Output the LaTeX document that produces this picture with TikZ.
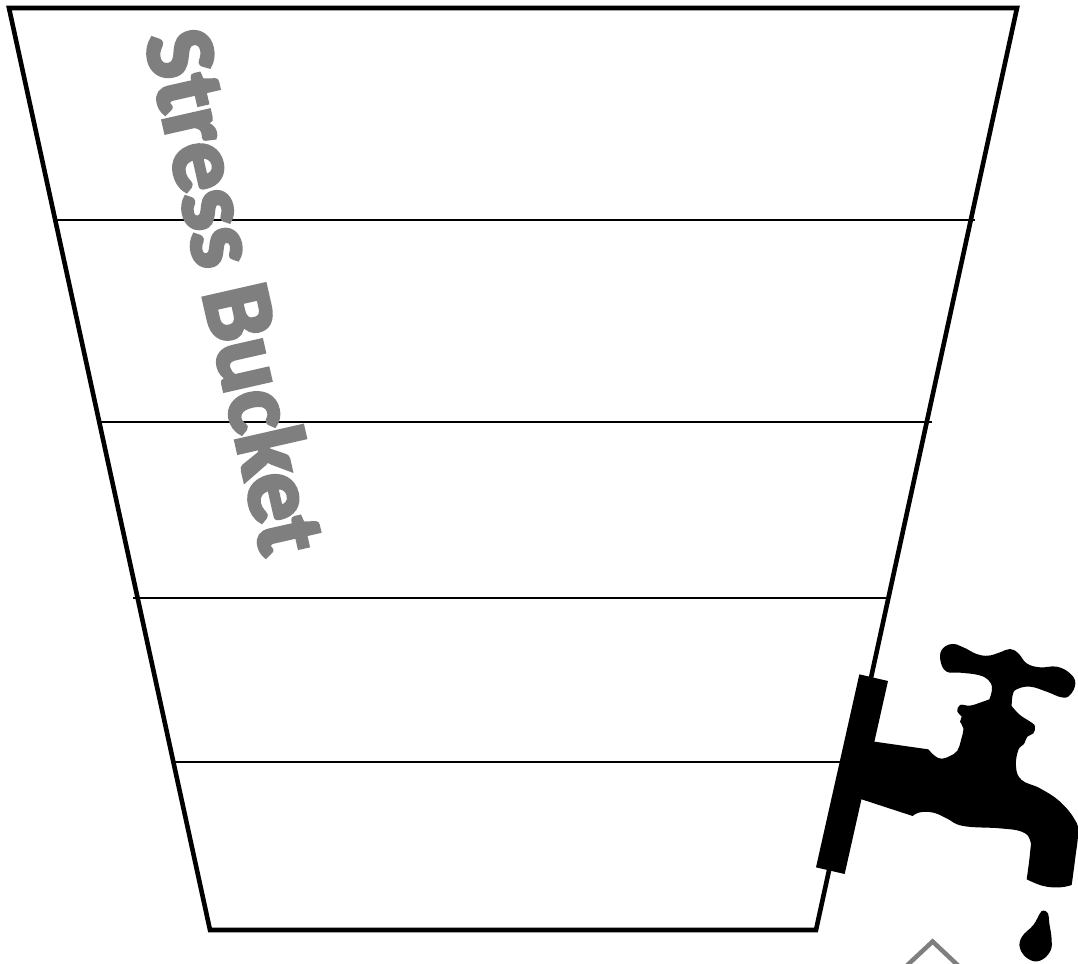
\documentclass[tikz,border=0pt]{standalone}
\usepackage{fontspec}
\setmainfont{Carlito}
\newfontfamily\titlefont[FakeBold=4]{Carlito Bold}
\definecolor{bucketgray}{RGB}{127,127,127}
\tikzset{
  bucketwall/.style={draw=black,line width=4.6pt,line join=miter},
  levelline/.style={draw=black,line width=2pt},
  titletext/.style={font=\fontsize{97}{97}\titlefont,rotate=-77.2,inner sep=0pt,anchor=center},
  tapfill/.style={fill=black,draw=none},
  chevron/.style={draw=bucketgray,line width=4.5pt,line join=miter}
}
\begin{document}
\begin{tikzpicture}[x=1pt,y=-1pt]
\useasboundingbox (0,0) rectangle (1078,963);
\fill[white] (0,0) rectangle (1078,963);
% levels
\draw[levelline] (57,220) -- (975,220);
\draw[levelline] (100,422) -- (932,422);
\draw[levelline] (133,598) -- (890,598);
\draw[levelline] (175,762) -- (842,762);
% bucket
\draw[bucketwall] (9,8) -- (1017,8) -- (816,930) -- (210,930) -- cycle;
% title
\node[titletext,text=bucketgray] (title) at (236.5,291) {Stress Bucket};
% tap
\begin{scope}[shift={(800,620)},x=0.33333pt,y=-0.33333pt]
\fill[tapfill] (178,163) -- (264,183) -- (134,762) -- (48,742) -- cycle;
\fill[tapfill] (180,365) -- (224,365) -- (385,388)
  -- plot[smooth,tension=0.7] coordinates {(385,388) (405,408) (425,416) (450,408) (472,392) (483,360) (490,325) (480,305) (485,290) (472,275) (480,255) (510,257) (540,248) (568,238)}
  -- plot[smooth,tension=0.7] coordinates {(568,238) (576,205) (565,180) (535,165) (480,158) (440,155) (422,125) (425,90) (455,72) (490,82) (530,102) (565,107) (600,97) (630,87) (655,100) (680,130) (720,142) (770,140) (810,160) (826,190) (810,225) (785,232) (740,215) (690,200) (650,208) (638,225) (635,258)}
  -- plot[smooth,tension=0.7] coordinates {(635,258) (660,285) (695,308) (705,320) (700,340) (682,350) (672,372) (655,390) (648,440) (665,480) (720,505) (780,545) (825,600) (834,640) (825,720) (815,795)}
  -- plot[smooth,tension=0.7] coordinates {(815,795) (780,802) (730,798) (680,778)}
  -- plot[smooth,tension=0.7] coordinates {(680,778) (690,700) (690,660) (665,635) (600,625) (490,618) (440,595) (400,578) (360,577) (338,588)}
  -- (185,538) -- (150,530) -- cycle;
\fill[tapfill] plot[smooth cycle,tension=0.7] coordinates {(730,872) (744,880) (748,910) (755,960) (750,995) (720,1022) (685,1017) (660,985) (666,950) (700,915) (720,880)};
\end{scope}
% chevron
\begin{scope}
\clip (880,930) rectangle (990,963);
\draw[chevron] (900,972) -- (932.6,941.5) -- (965,972);
\end{scope}
\end{tikzpicture}
\end{document}
